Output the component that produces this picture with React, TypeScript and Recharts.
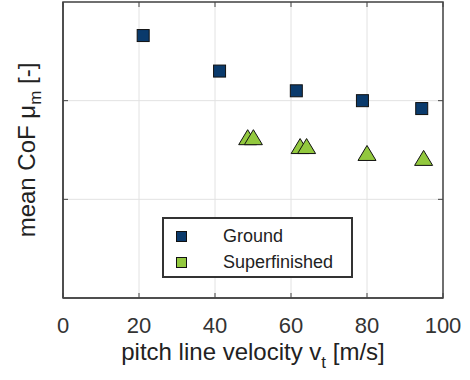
import React from 'react';
import { ScatterChart, Scatter, XAxis, YAxis, CartesianGrid, Legend, ReferenceArea } from 'recharts';

const xTicks = [0, 20, 40, 60, 80, 100];
const yTicks = [0.03, 0.04];

const groundVelocity = [21.1, 41.2, 61.4, 78.8, 94.4];
const groundCoF = [0.0466, 0.043, 0.041, 0.04, 0.0392];

const superVelocity = [48.6, 50.1, 62.4, 64.1, 80.0, 94.9];
const superCoF = [0.0363, 0.0363, 0.0354, 0.0354, 0.0347, 0.0342];

const groundData = groundVelocity.map((v, i) => ({ x: v, y: groundCoF[i] }));
const superData = superVelocity.map((v, i) => ({ x: v, y: superCoF[i] }));

const FONT = '"Liberation Sans", Arial, Helvetica, sans-serif';
const AXIS = '#444';
const GROUND = '#0a3a6c';
const SUPER = '#92c83e';

const Square = (props: any) => {
  const { cx, cy } = props;
  return <rect x={cx - 6} y={cy - 6} width={12} height={12} fill={GROUND} stroke="#111" strokeWidth={1} />;
};

const Triangle = (props: any) => {
  const { cx, cy } = props;
  const pts = `${cx},${cy - 7.5} ${cx - 9},${cy + 7.5} ${cx + 9},${cy + 7.5}`;
  return <polygon points={pts} fill={SUPER} stroke="#111" strokeWidth={1} />;
};

// inward tick at bottom and top of the box, label below
const BottomTick = (props: any) => {
  const { x, y, payload } = props;
  return (
    <g>
      <line x1={x} x2={x} y1={y} y2={y - 5} stroke={AXIS} />
      <line x1={x} x2={x} y1={2} y2={7} stroke={AXIS} />
      <text x={x} y={y + 35} textAnchor="middle" fontSize={22} fill="#333" fontFamily={FONT}>
        {payload.value}
      </text>
    </g>
  );
};

const LeftTick = (props: any) => {
  const { x, y } = props;
  return (
    <g>
      <line x1={x} x2={x + 5} y1={y} y2={y} stroke={AXIS} />
      <line x1={443} x2={438} y1={y} y2={y} stroke={AXIS} />
    </g>
  );
};

const XLabel = (props: any) => {
  const vb = props.viewBox;
  return (
    <text x={vb.x + vb.width / 2} y={vb.y + 62} textAnchor="middle" fontSize={24} fill="#222" fontFamily={FONT}>
      pitch line velocity v
      <tspan dy={8} fontSize={17}>t</tspan>
      <tspan dy={-8}> [m/s]</tspan>
    </text>
  );
};

const YLabel = (props: any) => {
  const vb = props.viewBox;
  const cx = 35;
  const cy = vb.y + vb.height / 2;
  return (
    <text x={cx} y={cy} transform={`rotate(-90, ${cx}, ${cy})`} textAnchor="middle" fontSize={24} fill="#222" fontFamily={FONT}>
      mean CoF μ
      <tspan dy={6} fontSize={17}>m</tspan>
      <tspan dy={-6}> [-]</tspan>
    </text>
  );
};

const LegendBox = (props: any) => {
  const items = props.payload || [];
  return (
    <div
      style={{
        boxSizing: 'border-box',
        width: 191,
        height: 61,
        border: '2px solid #333',
        background: '#fff',
        paddingTop: 4,
        fontFamily: FONT,
        fontSize: 18,
        color: '#222',
      }}
    >
      {items.map((it: any) => (
        <div key={it.value} style={{ display: 'flex', alignItems: 'center', height: 26 }}>
          <span
            style={{
              display: 'inline-block',
              width: 9,
              height: 9,
              marginLeft: 12,
              marginRight: 36,
              background: it.color,
              border: '1px solid #111',
            }}
          />
          <span>{it.value}</span>
        </div>
      ))}
    </div>
  );
};

export default function App() {
  return (
    <div style={{ position: 'absolute', left: 0, top: 0, width: 470, height: 380, background: '#fff' }}>
      <ScatterChart width={470} height={380} margin={{ top: 2, right: 27, bottom: 0, left: 0 }}>
        <CartesianGrid stroke="#e2e2e2" />
        <XAxis
          type="number"
          dataKey="x"
          domain={[0, 100]}
          ticks={xTicks}
          height={82}
          stroke={AXIS}
          strokeWidth={1.5}
          tickLine={false}
          tickSize={0}
          tickMargin={0}
          tick={<BottomTick />}
          label={<XLabel />}
        />
        <YAxis
          type="number"
          dataKey="y"
          domain={[0.02, 0.05]}
          ticks={yTicks}
          width={63}
          stroke={AXIS}
          strokeWidth={1.5}
          tickLine={false}
          tickSize={0}
          tickMargin={0}
          tick={<LeftTick />}
          label={<YLabel />}
        />
        <ReferenceArea x1={0} x2={100} y1={0.02} y2={0.05} fill="none" stroke={AXIS} strokeWidth={1.5} />
        <Legend
          layout="horizontal"
          verticalAlign="middle"
          align="center"
          content={<LegendBox />}
          wrapperStyle={{ left: 162, top: 217, width: 191, height: 61 }}
        />
        <Scatter name="Ground" data={groundData} fill={GROUND} shape={<Square />} isAnimationActive={false} />
        <Scatter name="Superfinished" data={superData} fill={SUPER} shape={<Triangle />} isAnimationActive={false} />
      </ScatterChart>
    </div>
  );
}
